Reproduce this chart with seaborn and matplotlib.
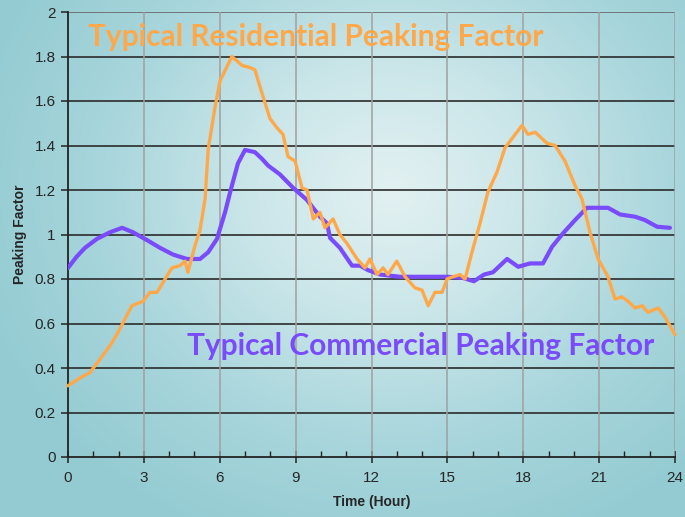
import numpy as np
import pandas as pd
import matplotlib
matplotlib.use("Agg")
import matplotlib.pyplot as plt
import seaborn as sns
from matplotlib.colors import LinearSegmentedColormap
from matplotlib.ticker import MultipleLocator

# Residential peaking factor (hour, factor)
res_hour = [0.0, 0.47, 0.87, 1.27, 1.66, 1.98, 2.25, 2.53, 2.97, 3.24, 3.52, 3.84, 4.11, 4.43,
            4.63, 4.74, 5.02, 5.22, 5.42, 5.54, 5.81, 6.01, 6.48, 6.88, 7.2, 7.39, 7.71, 7.99,
            8.26, 8.5, 8.7, 8.98, 9.25, 9.45, 9.7, 9.96, 10.16, 10.48, 10.75, 11.03, 11.43,
            11.74, 11.94, 12.22, 12.46, 12.65, 13.0, 13.33, 13.72, 14.0, 14.24, 14.51, 14.79,
            14.99, 15.22, 15.5, 15.7, 15.97, 16.29, 16.6, 16.96, 17.28, 17.55, 17.95, 18.19,
            18.47, 18.94, 19.26, 19.65, 20.05, 20.32, 20.64, 20.96, 21.35, 21.63, 21.9, 22.14,
            22.42, 22.7, 22.93, 23.33, 23.6, 24.0]
res_factor = [0.32, 0.355, 0.38, 0.44, 0.50, 0.56, 0.62, 0.68, 0.70, 0.74, 0.74, 0.80, 0.85, 0.86,
              0.88, 0.83, 0.95, 1.02, 1.16, 1.38, 1.57, 1.69, 1.80, 1.76, 1.75, 1.74, 1.62, 1.52,
              1.48, 1.45, 1.35, 1.33, 1.21, 1.20, 1.07, 1.10, 1.03, 1.07, 1.00, 0.96, 0.89,
              0.85, 0.89, 0.82, 0.85, 0.82, 0.88, 0.81, 0.76, 0.75, 0.68, 0.74, 0.74,
              0.80, 0.81, 0.82, 0.80, 0.92, 1.05, 1.19, 1.28, 1.39, 1.43, 1.49, 1.45,
              1.46, 1.41, 1.40, 1.33, 1.22, 1.16, 1.01, 0.89, 0.81, 0.71, 0.72, 0.70,
              0.67, 0.68, 0.65, 0.67, 0.63, 0.55]

# Commercial peaking factor (hour, factor)
com_hour = [0.0, 0.34, 0.67, 1.14, 1.66, 2.14, 2.57, 3.12, 3.64, 4.15, 4.7, 5.22, 5.54, 5.89,
            6.21, 6.41, 6.72, 7.0, 7.39, 7.67, 7.91, 8.38, 8.9, 9.45, 9.96, 10.24, 10.36,
            10.75, 11.23, 11.55, 11.86, 12.34, 13.13, 14.0, 15.0, 15.6, 16.05, 16.45, 16.8,
            17.36, 17.8, 18.27, 18.78, 19.14, 19.57, 20.05, 20.52, 20.96, 21.35, 21.83,
            22.42, 22.81, 23.29, 23.8]
com_factor = [0.85, 0.90, 0.94, 0.98, 1.01, 1.03, 1.01, 0.975, 0.94, 0.91, 0.89, 0.89, 0.92, 0.98,
              1.10, 1.19, 1.32, 1.38, 1.37, 1.34, 1.31, 1.27, 1.21, 1.155, 1.08, 1.05, 0.985,
              0.94, 0.86, 0.86, 0.84, 0.82, 0.81, 0.81, 0.81, 0.805, 0.79, 0.82, 0.83,
              0.89, 0.855, 0.87, 0.87, 0.945, 1.005, 1.065, 1.12, 1.12, 1.12, 1.09,
              1.08, 1.065, 1.035, 1.03]

x_ticks = [0, 3, 6, 9, 12, 15, 18, 21, 24]
y_ticks = [0, 0.2, 0.4, 0.6, 0.8, 1, 1.2, 1.4, 1.6, 1.8, 2]
y_tick_labels = ["0", "0.2", "0.4", "0.6", "0.8", "1", "1.2", "1.4", "1.6", "1.8", "2"]

ORANGE = "#FFA84A"
PURPLE = "#7A4BFA"

sns.set_theme(style="white")
plt.rcParams["font.family"] = ["Liberation Sans", "DejaVu Sans"]

fig = plt.figure(figsize=(6.85, 5.17), dpi=100)

# Radial gradient backdrop
bg = fig.add_axes([0, 0, 1, 1], zorder=-10)
h, w = 517, 685
yy, xx = np.mgrid[0:h, 0:w]
cx, cy = 390, 190
r = np.sqrt(((xx - cx) / 430.0) ** 2 + ((yy - cy) / 380.0) ** 2)
r = np.clip(r, 0, 1)
cmap = LinearSegmentedColormap.from_list("bg", ["#e3f1f2", "#cae6e9", "#a8d6dc", "#94cbd2"])
bg.imshow(r, cmap=cmap, vmin=0, vmax=1, aspect="auto", interpolation="bilinear")
bg.set_axis_off()

ax = fig.add_axes([68 / 685, 60 / 517, 607 / 685, 445 / 517])
ax.set_facecolor("none")

res_df = pd.DataFrame({"hour": res_hour, "factor": res_factor})
com_df = pd.DataFrame({"hour": com_hour, "factor": com_factor})

sns.lineplot(data=res_df, x="hour", y="factor", ax=ax, color=ORANGE, lw=2.4,
             solid_joinstyle="round", solid_capstyle="round", zorder=4, clip_on=False)
sns.lineplot(data=com_df, x="hour", y="factor", ax=ax, color=PURPLE, lw=3.0,
             solid_joinstyle="round", solid_capstyle="round", zorder=3)

ax.set_xlim(0, 24)
ax.set_ylim(0, 2)
ax.set_xticks(x_ticks)
ax.set_xticklabels([str(t) for t in x_ticks])
ax.xaxis.set_minor_locator(MultipleLocator(1))
ax.set_yticks(y_ticks)
ax.set_yticklabels(y_tick_labels)

# Grid: dark horizontal lines, light vertical lines
for yv in y_ticks[1:]:
    ax.axhline(yv, color="#2b2b2b" if yv < 2 else "#666666", lw=1.2, zorder=1)
for xv in x_ticks[1:]:
    ax.axvline(xv, color="#a0a0a0", lw=1.1, zorder=1)

for side in ["top", "right"]:
    ax.spines[side].set_visible(False)
for side in ["left", "bottom"]:
    ax.spines[side].set_color("#222222")
    ax.spines[side].set_linewidth(1.3)

ax.tick_params(axis="x", which="major", direction="inout", length=8, width=1.1,
               color="#222222", labelsize=11, pad=6, bottom=True)
ax.tick_params(axis="x", which="minor", direction="in", length=4, width=1.0,
               color="#222222", bottom=True)
ax.tick_params(axis="y", which="major", direction="out", length=5, width=1.1,
               color="#222222", labelsize=11, pad=4, left=True)

ax.set_xlabel("Time (Hour)", fontsize=10, fontweight="bold", labelpad=7)
ax.set_ylabel("Peaking Factor", fontsize=10, fontweight="bold", labelpad=5)

fig.text(88 / 685, 1 - 37 / 517, "Typical Residential Peaking Factor", color=ORANGE,
         fontsize=21.5, fontweight="bold", family=["Lato", "DejaVu Sans"], va="center", ha="left")
fig.text(187 / 685, 1 - 346 / 517, "Typical Commercial Peaking Factor", color=PURPLE,
         fontsize=21.5, fontweight="bold", family=["Lato", "DejaVu Sans"], va="center", ha="left")

fig.savefig("out.png", dpi=100)
